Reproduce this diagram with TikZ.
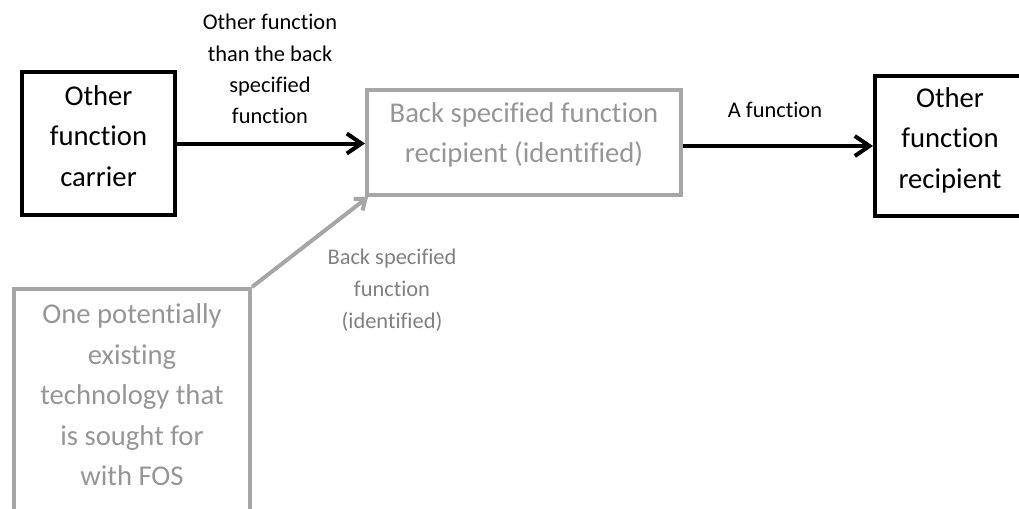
\documentclass[tikz,border=0pt]{standalone}
\usepackage{fontspec}
\setmainfont{Carlito}[Ligatures=NoCommon]
\usepackage{xcolor}
\usepackage{tikz}
\usetikzlibrary{positioning,calc,arrows.meta}
\definecolor{boxgrey}{RGB}{166,166,166}
\definecolor{textgrey}{RGB}{150,150,150}
\definecolor{labelgrey}{RGB}{128,128,128}

\begin{document}
\begin{tikzpicture}[x=0.75pt, y=-0.75pt,
    blackbox/.style={draw, line width=3pt, inner sep=0pt},
    greybox/.style={draw=boxgrey, line width=3pt, inner sep=0pt},
    bigtext/.style={align=center, font=\fontsize{21.5}{30.4}\selectfont},
    smalltext/.style={align=center, font=\fontsize{16.8}{23.5}\selectfont},
    blackarrow/.style={line width=3pt, -{Straight Barb[length=11pt,width=15pt]}},
    greyarrow/.style={draw=boxgrey, line width=3pt, -{Straight Barb[length=7pt,width=11pt]}}]
    % Frame
    \clip (0,0) rectangle (1019,508);

    % Boxes
    \node[blackbox, minimum width=114.75pt, minimum height=107.25pt] (carrier) at (98.5,143.5) {};
    \node[greybox, minimum width=235.5pt, minimum height=78.75pt] (recip) at (524,142.5) {};
    \node[blackbox, minimum width=112.5pt, minimum height=105pt] (other) at (950,146) {};
    \node[greybox, minimum width=177pt, minimum height=166.5pt] (tech) at (132,400) {};

    % Box texts
    \node[bigtext] (carrier-t) at (98.5,136) {Other\\function\\carrier};
    \node[bigtext, text=textgrey] (recip-t) at (524,135) {Back specified function\\recipient (identified)};
    \node[bigtext] (other-t) at (950,140) {Other\\function\\recipient};
    \node[bigtext, text=textgrey] (tech-t) at (132,395) {One potentially\\existing\\technology that\\is sought for\\with FOS};

    % Functions
    \draw[blackarrow] (carrier.east) -- (carrier.east -| recip.west);
    \draw[blackarrow] (other.west -| recip.east) -- (other.west);
    \draw[greyarrow] (tech.north east) -- ([xshift=2.25pt]recip.south west);

    % Labels
    \node[smalltext] (carrier-l) at (270,69) {Other function\\than the back\\specified\\function};
    \node[smalltext] (other-l) at (775,110) {A function};
    \node[smalltext, text=labelgrey, font=\fontsize{16.8}{24}\selectfont] (tech-l) at (392,290) {Back specified\\function\\(identified)};
\end{tikzpicture}
\end{document}
